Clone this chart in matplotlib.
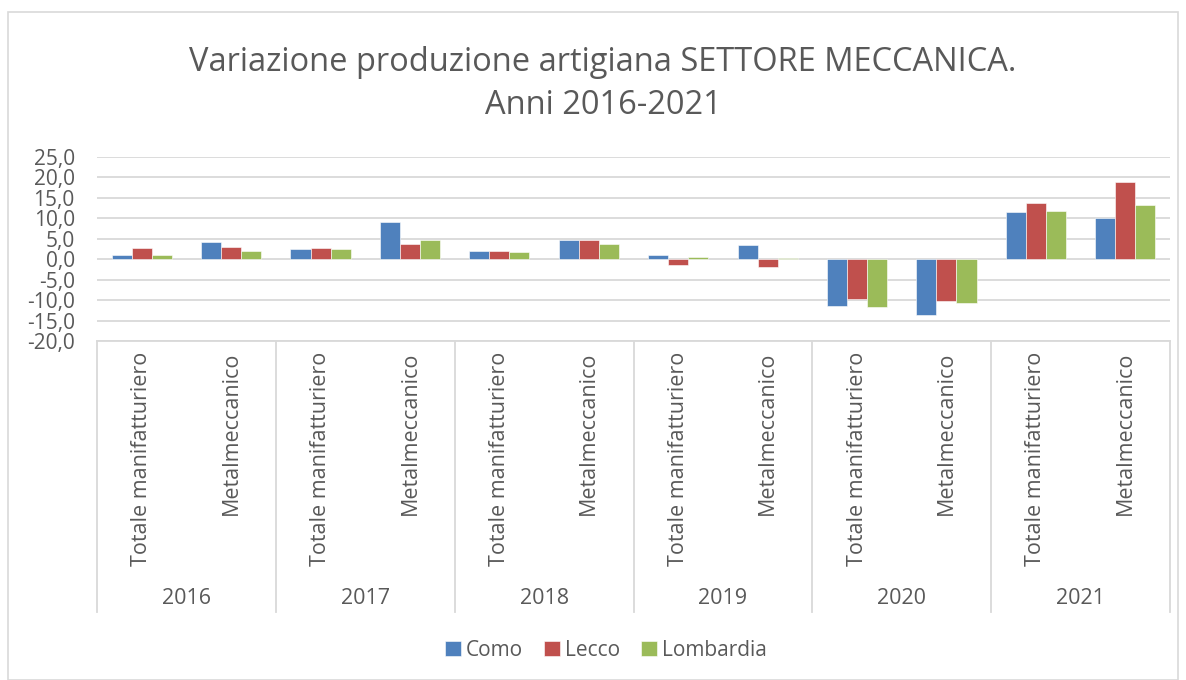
import matplotlib.pyplot as plt
import matplotlib.transforms as mtransforms
from matplotlib.patches import Rectangle
import numpy as np

plt.rcParams['font.family'] = ['Open Sans', 'DejaVu Sans']

years = ['2016', '2017', '2018', '2019', '2020', '2021']
sectors = ['Totale manifatturiero', 'Metalmeccanico']
series = ['Como', 'Lecco', 'Lombardia']
colors = ['#4F81BD', '#C0504D', '#9BBB59']

como = [1.0, 4.2, 2.4, 9.1, 1.9, 4.6, 1.1, 3.4, -11.4, -13.7, 11.5, 10.0]
lecco = [2.7, 3.0, 2.7, 3.8, 1.9, 4.6, -1.5, -1.9, -9.8, -10.1, 13.7, 18.8]
lombardia = [1.15, 2.0, 2.5, 4.8, 1.8, 3.7, 0.5, 0.2, -11.8, -10.7, 11.9, 13.3]

txt = '#595959'
W, H = 1186, 680
fig = plt.figure(figsize=(W / 100, H / 100), dpi=100)
fig.patches.append(Rectangle((8 / W, 0), 1170 / W, 1 - 12 / H, transform=fig.transFigure,
                             fill=False, edgecolor='#d9d9d9', lw=1.2))

ax = fig.add_axes([97 / W, 1 - 341 / H, 1073 / W, 184 / H])
x = np.arange(len(como))
bw = 0.224
for i, (vals, name, c) in enumerate(zip([como, lecco, lombardia], series, colors)):
    ax.bar(x + (i - 1) * bw, vals, bw, color=c, label=name, zorder=3, edgecolor='white', linewidth=0.4)

ax.set_xlim(-0.5, len(x) - 0.5)
ax.set_ylim(-20, 25)
ticks = np.arange(-20, 26, 5)
ax.set_yticks(ticks)
ax.set_yticklabels([f'{v:.1f}'.replace('.', ',') for v in ticks], fontsize=15, color=txt)
ax.tick_params(axis='y', length=0, pad=16)
ax.set_xticks([])
ax.grid(axis='y', color='#d9d9d9', lw=1.3, zorder=0)
for s in ax.spines.values():
    s.set_visible(False)

# category axis below the plot
trans = mtransforms.blended_transform_factory(ax.transData, fig.transFigure)
ax.plot([-0.5, len(x) - 0.5], [1 - 341 / H] * 2, transform=trans, color='#d9d9d9', lw=1.3, clip_on=False)
for b in np.arange(-0.5, len(x), 2):
    ax.plot([b, b], [1 - 341 / H, 1 - 612 / H], transform=trans, color='#d9d9d9', lw=1.3, clip_on=False)
for k, xi in enumerate(x):
    ax.text(xi, 1 - 352 / H, sectors[k % 2], transform=trans, rotation=90,
            ha='center', va='top', fontsize=15.5, color=txt)
for j, yr in enumerate(years):
    ax.text(2 * j + 0.5, 1 - 599 / H, yr, transform=trans, ha='center', va='center',
            fontsize=15.5, color=txt)

fig.text(603 / W, 1 - 84 / H, 'Variazione produzione artigiana SETTORE MECCANICA.\nAnni 2016-2021',
         ha='center', va='center', fontsize=23.5, color=txt, linespacing=1.38)

fig.legend(loc='center', bbox_to_anchor=(606 / W, 1 - 650 / H), ncol=3, frameon=False,
           fontsize=15, handlelength=0.75, handleheight=0.75, handletextpad=0.25,
           columnspacing=1.0, labelcolor=txt)

fig.savefig('out.png', dpi=100)
